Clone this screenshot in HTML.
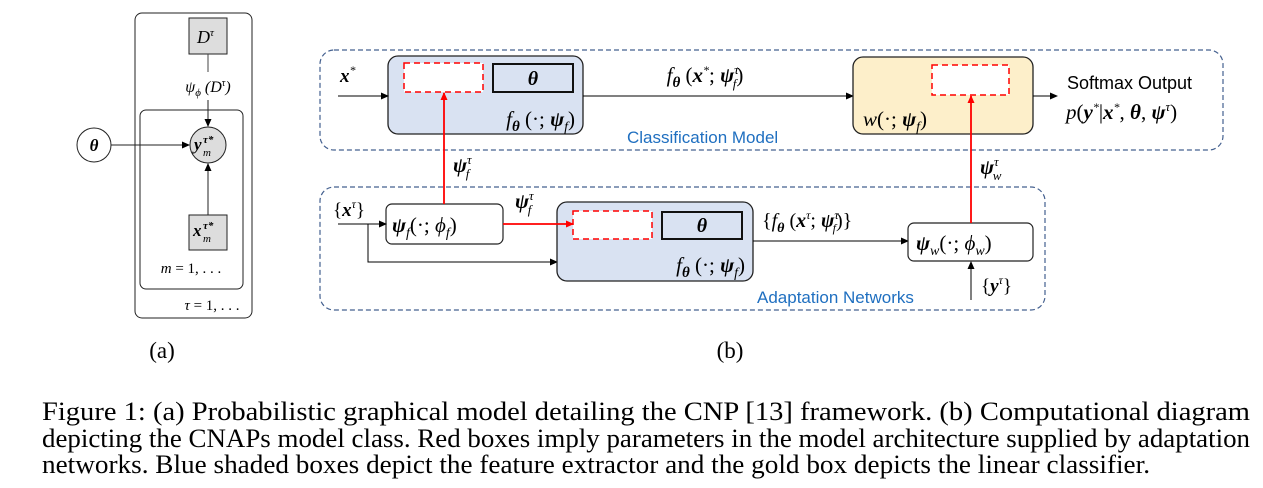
<!DOCTYPE html>
<html><head><meta charset="utf-8"><style>
body{margin:0;background:#fff;}
svg{display:block}
.m{font-family:"Liberation Serif",serif;font-style:italic}
.b{font-family:"Liberation Serif",serif;font-style:italic;font-weight:bold}
.s{font-family:"Liberation Sans",sans-serif}
.r{font-family:"Liberation Serif",serif}
</style></head><body>
<svg width="1263" height="488" viewBox="0 0 1263 488" xmlns="http://www.w3.org/2000/svg">
<defs>
<marker id="ak" markerWidth="8" markerHeight="8" refX="7" refY="4" orient="auto" markerUnits="userSpaceOnUse"><path d="M0,0.5 L8,4 L0,7.5z" fill="#000"/></marker>
<marker id="ar" markerWidth="8" markerHeight="8" refX="7" refY="4" orient="auto" markerUnits="userSpaceOnUse"><path d="M0,0.5 L8,4 L0,7.5z" fill="#f00"/></marker>
</defs>
<!-- (a) -->
<rect x="135" y="13" width="117" height="305" rx="7" fill="none" stroke="#222" stroke-width="1"/>
<rect x="140" y="110" width="103" height="179" rx="6" fill="none" stroke="#222" stroke-width="1"/>
<rect x="189" y="18" width="38" height="36" fill="#ddd" stroke="#222"/>
<text x="197" y="43" class="m" font-size="18">D<tspan font-size="11" dy="-7">τ</tspan></text>
<line x1="208" y1="54" x2="208" y2="72" stroke="#444"/>
<text x="208" y="92" class="m" font-size="16" text-anchor="middle">ψ<tspan font-size="11" dy="4">ϕ</tspan><tspan dy="-4"> (D</tspan><tspan font-size="10" dy="-6">τ</tspan><tspan dy="6">)</tspan></text>
<line x1="208" y1="100" x2="208" y2="126" stroke="#222" marker-end="url(#ak)"/>
<circle cx="208" cy="145" r="18" fill="#ddd" stroke="#222"/>
<text x="194" y="150" class="b" font-size="17">y</text>
<text x="203" y="143" class="b" font-size="11">τ*</text>
<text x="203" y="156" class="m" font-size="11">m</text>
<circle cx="94" cy="145" r="17" fill="#fff" stroke="#222"/>
<text x="94" y="151" class="b" font-size="17" text-anchor="middle">θ</text>
<line x1="111" y1="145" x2="189" y2="145" stroke="#222" marker-end="url(#ak)"/>
<rect x="189" y="215" width="38" height="35" fill="#ddd" stroke="#222"/>
<text x="193" y="236" class="b" font-size="17">x</text>
<text x="203" y="229" class="b" font-size="11">τ*</text>
<text x="203" y="242" class="m" font-size="11">m</text>
<line x1="208" y1="215" x2="208" y2="164" stroke="#222" marker-end="url(#ak)"/>
<text x="191" y="273" class="m" font-size="15" text-anchor="middle">m <tspan font-style="normal">= 1, . . .</tspan></text>
<text x="212" y="310" class="m" font-size="15" text-anchor="middle">τ <tspan font-style="normal">= 1, . . .</tspan></text>
<text x="162" y="358" class="r" font-size="23" text-anchor="middle">(a)</text>
<!-- (b) dashed groups -->
<rect x="320" y="50" width="903" height="100" rx="14" fill="none" stroke="#44608f" stroke-width="1.2" stroke-dasharray="5,3"/>
<rect x="320" y="187" width="725" height="123" rx="14" fill="none" stroke="#44608f" stroke-width="1.2" stroke-dasharray="5,3"/>
<!-- blue box 1 -->
<rect x="388" y="56" width="195" height="78" rx="10" fill="#d9e2f2" stroke="#222" stroke-width="1.3"/>
<rect x="404" y="63" width="79" height="29" fill="#fff" stroke="#f00" stroke-width="1.5" stroke-dasharray="6,4"/>
<rect x="493" y="64" width="80" height="28" fill="#d9e2f2" stroke="#111" stroke-width="2"/>
<text x="533" y="85" class="b" font-size="20" text-anchor="middle">θ</text>
<text x="575" y="126" class="b" font-size="21" text-anchor="end"><tspan font-weight="normal">f</tspan><tspan font-size="15" dy="5">θ</tspan><tspan dy="-5" font-weight="normal" font-style="normal"> (·; </tspan>ψ<tspan font-size="14" font-weight="normal" dy="5">f</tspan><tspan dy="-5" font-weight="normal" font-style="normal">)</tspan></text>
<text x="340" y="82" class="b" font-size="19">x<tspan font-size="12" font-weight="normal" dy="-8">*</tspan></text>
<line x1="338" y1="96" x2="388" y2="96" stroke="#000" marker-end="url(#ak)"/>
<line x1="583" y1="96" x2="853" y2="96" stroke="#000" marker-end="url(#ak)"/>
<text x="705" y="82" class="b" font-size="21" text-anchor="middle"><tspan font-weight="normal">f</tspan><tspan font-size="15" dy="5">θ</tspan><tspan dy="-5" font-weight="normal" font-style="normal"> (</tspan>x<tspan font-size="12" font-weight="normal" dy="-8">*</tspan><tspan dy="8" font-weight="normal" font-style="normal">; </tspan>ψ<tspan font-size="13" font-weight="normal" dy="-8">τ</tspan><tspan font-size="13" font-weight="normal" dx="-6" dy="14">f</tspan><tspan dy="-6" font-weight="normal" font-style="normal">)</tspan></text>
<!-- gold box -->
<rect x="853" y="57" width="180" height="77" rx="10" fill="#fdefca" stroke="#222" stroke-width="1.3"/>
<rect x="932" y="65" width="77" height="30" fill="#fff" stroke="#f00" stroke-width="1.5" stroke-dasharray="6,4"/>
<text x="863" y="126" class="m" font-size="21">w<tspan font-style="normal">(·; </tspan><tspan font-weight="bold">ψ</tspan><tspan font-size="14" dy="5">f</tspan><tspan dy="-5" font-style="normal">)</tspan></text>
<line x1="1033" y1="96" x2="1057" y2="96" stroke="#000" marker-end="url(#ak)"/>
<text x="1067" y="89" class="s" font-size="18">Softmax Output</text>
<text x="1066" y="119" class="m" font-size="21">p<tspan font-style="normal">(</tspan><tspan font-weight="bold">y</tspan><tspan font-size="12" dy="-8">*</tspan><tspan dy="8" font-style="normal">|</tspan><tspan font-weight="bold">x</tspan><tspan font-size="12" dy="-8">*</tspan><tspan dy="8" font-style="normal">, </tspan><tspan font-weight="bold">θ</tspan><tspan font-style="normal">, </tspan><tspan font-weight="bold">ψ</tspan><tspan font-size="13" dy="-8">τ</tspan><tspan dy="8" font-style="normal">)</tspan></text>
<text x="627" y="143" class="s" font-size="17" fill="#1f6fc0">Classification Model</text>
<!-- adaptation -->
<rect x="386" y="204" width="117" height="40" rx="6" fill="#fff" stroke="#222" stroke-width="1.2"/>
<text x="392" y="232" class="b" font-size="21">ψ<tspan font-size="14" font-weight="normal" dy="5">f</tspan><tspan dy="-5" font-weight="normal" font-style="normal">(·; </tspan><tspan font-weight="normal">ϕ</tspan><tspan font-size="14" font-weight="normal" dy="5">f</tspan><tspan dy="-5" font-weight="normal" font-style="normal">)</tspan></text>
<text x="333" y="216" class="b" font-size="19"><tspan font-weight="normal" font-style="normal">{</tspan>x<tspan font-size="12" font-weight="normal" dy="-8">τ</tspan><tspan dy="8" font-weight="normal" font-style="normal">}</tspan></text>
<line x1="338" y1="224" x2="386" y2="224" stroke="#000" marker-end="url(#ak)"/>
<polyline points="368,224 368,262 557,262" fill="none" stroke="#000" marker-end="url(#ak)"/>
<rect x="557" y="202" width="196" height="79" rx="10" fill="#d9e2f2" stroke="#222" stroke-width="1.3"/>
<rect x="573" y="211" width="79" height="28" fill="#fff" stroke="#f00" stroke-width="1.5" stroke-dasharray="6,4"/>
<rect x="662" y="212" width="80" height="27" fill="#d9e2f2" stroke="#111" stroke-width="2"/>
<text x="702" y="232" class="b" font-size="20" text-anchor="middle">θ</text>
<text x="745" y="272" class="b" font-size="21" text-anchor="end"><tspan font-weight="normal">f</tspan><tspan font-size="15" dy="5">θ</tspan><tspan dy="-5" font-weight="normal" font-style="normal"> (·; </tspan>ψ<tspan font-size="14" font-weight="normal" dy="5">f</tspan><tspan dy="-5" font-weight="normal" font-style="normal">)</tspan></text>
<line x1="503" y1="224" x2="573" y2="224" stroke="#f00" stroke-width="1.8" marker-end="url(#ar)"/>
<text x="515" y="208" class="b" font-size="21">ψ<tspan font-size="13" font-weight="normal" dy="-8">τ</tspan><tspan font-size="13" font-weight="normal" dx="-6" dy="14">f</tspan></text>
<line x1="444" y1="204" x2="444" y2="93" stroke="#f00" stroke-width="1.8" marker-end="url(#ar)"/>
<text x="453" y="172" class="b" font-size="21">ψ<tspan font-size="13" font-weight="normal" dy="-8">τ</tspan><tspan font-size="13" font-weight="normal" dx="-6" dy="14">f</tspan></text>
<line x1="753" y1="241" x2="908" y2="241" stroke="#000" marker-end="url(#ak)"/>
<text x="762" y="227" class="b" font-size="20"><tspan font-weight="normal" font-style="normal">{</tspan><tspan font-weight="normal">f</tspan><tspan font-size="14" dy="5">θ</tspan><tspan dy="-5" font-weight="normal" font-style="normal"> (</tspan>x<tspan font-size="12" font-weight="normal" dy="-8">τ</tspan><tspan dy="8" font-weight="normal" font-style="normal">; </tspan>ψ<tspan font-size="12" font-weight="normal" dy="-8">τ</tspan><tspan font-size="12" font-weight="normal" dx="-6" dy="13">f</tspan><tspan dy="-5" font-weight="normal" font-style="normal">)}</tspan></text>
<rect x="908" y="223" width="125" height="38" rx="6" fill="#fff" stroke="#222" stroke-width="1.2"/>
<text x="916" y="250" class="b" font-size="21">ψ<tspan font-size="14" font-weight="normal" dy="5">w</tspan><tspan dy="-5" font-weight="normal" font-style="normal">(·; </tspan><tspan font-weight="normal">ϕ</tspan><tspan font-size="14" font-weight="normal" dy="5">w</tspan><tspan dy="-5" font-weight="normal" font-style="normal">)</tspan></text>
<line x1="971" y1="223" x2="971" y2="96" stroke="#f00" stroke-width="1.8" marker-end="url(#ar)"/>
<text x="980" y="174" class="b" font-size="21">ψ<tspan font-size="13" font-weight="normal" dy="-8">τ</tspan><tspan font-size="13" font-weight="normal" dx="-6" dy="14">w</tspan></text>
<line x1="971" y1="300" x2="971" y2="262" stroke="#000" marker-end="url(#ak)"/>
<text x="981" y="292" class="b" font-size="19"><tspan font-weight="normal" font-style="normal">{</tspan>y<tspan font-size="12" font-weight="normal" dy="-8">τ</tspan><tspan dy="8" font-weight="normal" font-style="normal">}</tspan></text>
<text x="757" y="303" class="s" font-size="17" fill="#1f6fc0">Adaptation Networks</text>
<text x="730" y="358" class="r" font-size="23" text-anchor="middle">(b)</text>
<!-- caption -->
<text x="42" y="420" class="r" font-size="26" textLength="1208" lengthAdjust="spacingAndGlyphs">Figure 1: (a) Probabilistic graphical model detailing the CNP [13] framework. (b) Computational diagram</text>
<text x="42" y="447" class="r" font-size="26" textLength="1208" lengthAdjust="spacingAndGlyphs">depicting the CNAPs model class. Red boxes imply parameters in the model architecture supplied by adaptation</text>
<text x="42" y="473" class="r" font-size="26" textLength="1108" lengthAdjust="spacingAndGlyphs">networks. Blue shaded boxes depict the feature extractor and the gold box depicts the linear classifier.</text>
</svg>
</body></html>
